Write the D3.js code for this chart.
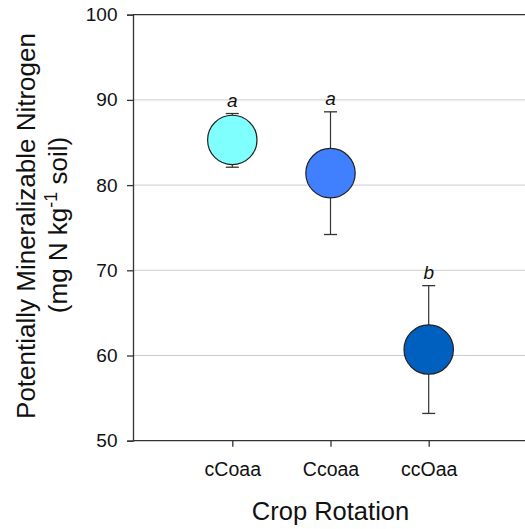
<!DOCTYPE html>
<html>
<head>
<meta charset="utf-8">
<script src="https://cdn.jsdelivr.net/npm/d3@7"></script>
<style>
  html, body { margin: 0; padding: 0; background: #fff; }
  svg { display: block; font-family: Arial, "Liberation Sans", sans-serif; }
</style>
</head>
<body>
<svg id="chart" width="525" height="529"></svg>
<script>
const categories = ["cCoaa", "Ccoaa", "ccOaa"];
const means = [85.3, 81.4, 60.7];
const upper = [88.4, 88.6, 68.2];
const lower = [82.1, 74.2, 53.2];
const letters = ["a", "a", "b"];
const colors = ["#80FFFF", "#4080FF", "#0060C0"];
const yTicks = [50, 60, 70, 80, 90, 100];

const FONT = "Arial, 'Liberation Sans', sans-serif";
const svg = d3.select("#chart");
const plotL = 133, plotR = 525, plotT = 14.7, plotB = 440.7;

const y = d3.scaleLinear().domain([50, 100]).range([plotB, plotT]);
const x = d3.scalePoint().domain(categories).range([232.3, 428.7]);

// gridlines
svg.append("g").selectAll("line").data(yTicks.filter(d => d > 50 && d < 100)).join("line")
  .attr("x1", plotL).attr("x2", plotR)
  .attr("y1", d => y(d)).attr("y2", d => y(d))
  .attr("stroke", "#cccccc").attr("stroke-width", 1);

// top border
svg.append("line").attr("x1", plotL).attr("x2", plotR)
  .attr("y1", y(100)).attr("y2", y(100))
  .attr("stroke", "#333").attr("stroke-width", 1.3);

// y axis
const yAxis = d3.axisLeft(y).tickValues(yTicks).tickSize(6).tickPadding(9.5).tickFormat(d3.format("d"));
const gy = svg.append("g").attr("transform", `translate(${plotL},0)`).call(yAxis);
gy.attr("font-family", FONT);
gy.select(".domain").attr("stroke", "#333").attr("stroke-width", 1.3);
gy.selectAll(".tick line").attr("stroke", "#333").attr("stroke-width", 1.3);
gy.selectAll(".tick text").attr("font-size", 19).attr("fill", "#111");

// x axis
const xAxis = d3.axisBottom(x).tickSize(6).tickPadding(14).tickSizeOuter(0);
const gx = svg.append("g").attr("transform", `translate(0,${plotB})`).call(xAxis);
gx.attr("font-family", FONT);
gx.select(".domain").attr("d", `M${plotL},0H${plotR}`).attr("stroke", "#333").attr("stroke-width", 1.3);
gx.selectAll(".tick line").attr("stroke", "#333").attr("stroke-width", 1.3);
gx.selectAll(".tick text").attr("font-size", 19.5).attr("fill", "#111").attr("dy", null).attr("y", 35);

// error bars
const eb = svg.append("g");
categories.forEach((c, i) => {
  const cx = x(c);
  eb.append("line").attr("x1", cx).attr("x2", cx).attr("y1", y(upper[i])).attr("y2", y(lower[i]))
    .attr("stroke", "#333").attr("stroke-width", 1.2);
  [upper[i], lower[i]].forEach(v => {
    eb.append("line").attr("x1", cx - 6.5).attr("x2", cx + 6.5).attr("y1", y(v)).attr("y2", y(v))
      .attr("stroke", "#333").attr("stroke-width", 1.3);
  });
});

// points
svg.append("g").selectAll("circle").data(categories).join("circle")
  .attr("cx", d => x(d)).attr("cy", (d, i) => y(means[i])).attr("r", 24.7)
  .attr("fill", (d, i) => colors[i]).attr("stroke", "#222").attr("stroke-width", 1.2);

// letters
svg.append("g").selectAll("text").data(categories).join("text")
  .attr("x", d => x(d)).attr("y", (d, i) => y(upper[i]) - 7)
  .attr("text-anchor", "middle").attr("font-size", 19).attr("font-style", "italic").attr("fill", "#111")
  .text((d, i) => letters[i]);

// axis titles
svg.append("text").attr("x", 330.5).attr("y", 520)
  .attr("text-anchor", "middle").attr("font-size", 25.5).attr("fill", "#111")
  .text("Crop Rotation");

const yt = svg.append("text").attr("transform", "rotate(-90)")
  .attr("text-anchor", "middle").attr("font-size", 26).attr("fill", "#111");
yt.append("tspan").attr("x", -226).attr("y", 35).text("Potentially Mineralizable Nitrogen");
const l2 = yt.append("tspan").attr("x", -225).attr("y", 67);
l2.append("tspan").text("(mg N kg");
l2.append("tspan").attr("dy", -10).attr("font-size", 18).text("-1");
l2.append("tspan").attr("dy", 10).text(" soil)");
</script>
</body>
</html>
